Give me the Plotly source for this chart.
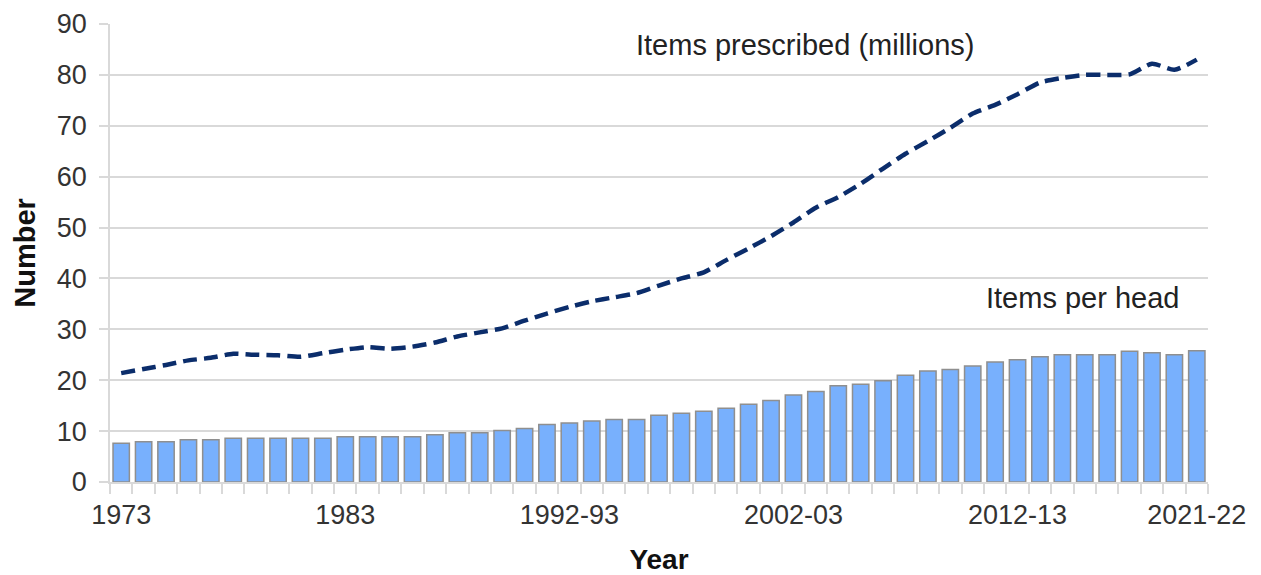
import plotly.graph_objects as go

# Period index along the x axis (one entry per year, 1973 to 2021-22)
period_index = list(range(49))

# Items per head (bars)
items_per_head = [
    7.6, 7.9, 7.9, 8.3, 8.3, 8.6, 8.6, 8.6, 8.6, 8.6,
    8.9, 8.9, 8.9, 8.9, 9.3, 9.7, 9.7, 10.1, 10.5, 11.3,
    11.6, 12.0, 12.3, 12.3, 13.1, 13.5, 13.9, 14.5, 15.3, 16.0,
    17.1, 17.8, 18.9, 19.2, 19.9, 21.0, 21.8, 22.1, 22.8, 23.6,
    24.0, 24.6, 25.0, 25.0, 25.0, 25.7, 25.4, 25.0, 25.8,
]

# Items prescribed, millions (dashed line)
items_prescribed = [
    21.4, 22.2, 23.0, 23.9, 24.4, 25.2, 25.0, 24.9, 24.6, 25.3,
    26.0, 26.5, 26.2, 26.6, 27.4, 28.6, 29.4, 30.2, 31.7, 33.1,
    34.4, 35.5, 36.3, 37.1, 38.6, 40.0, 41.2, 43.6, 45.9, 48.3,
    51.0, 53.9, 56.0, 58.6, 61.6, 64.5, 67.0, 69.6, 72.4, 74.1,
    76.2, 78.5, 79.4, 80.0, 80.0, 80.1, 82.2, 81.0, 83.0,
]

# Labelled periods on the x axis
tick_positions = [0, 10, 20, 30, 40, 48]
tick_labels = ["1973", "1983", "1992-93", "2002-03", "2012-13", "2021-22"]

y_ticks = [0, 10, 20, 30, 40, 50, 60, 70, 80, 90]

FONT = "Liberation Sans, Arial, sans-serif"
GRID = "#d9d9d9"

fig = go.Figure()

fig.add_trace(go.Bar(
    x=period_index,
    y=items_per_head,
    marker=dict(color="#78b0fd", line=dict(color="#8f8f8f", width=1.5)),
    name="Items per head",
    showlegend=False,
))

fig.add_trace(go.Scatter(
    x=period_index,
    y=items_prescribed,
    mode="lines",
    line=dict(color="#0b2d6b", width=4.5, dash="14px,7px", shape="spline", smoothing=0.6),
    name="Items prescribed (millions)",
    showlegend=False,
))

fig.add_annotation(
    x=30.5, y=85.9, xref="x", yref="y",
    text="Items prescribed (millions)", showarrow=False,
    font=dict(family=FONT, size=29, color="#222222"),
)
fig.add_annotation(
    x=42.9, y=36.1, xref="x", yref="y",
    text="Items per head", showarrow=False,
    font=dict(family=FONT, size=29, color="#222222"),
)

fig.update_layout(
    width=1261,
    height=575,
    margin=dict(l=110, r=53, t=24, b=93),
    paper_bgcolor="white",
    plot_bgcolor="white",
    bargap=0.27,
    font=dict(family=FONT, size=27, color="#333333"),
)

fig.update_xaxes(
    range=[-0.5, 48.5],
    automargin=False,
    tickmode="array",
    tickvals=tick_positions,
    ticktext=tick_labels,
    ticks="",
    ticklabelstandoff=8,
    tickfont=dict(family=FONT, size=27, color="#333333"),
    showgrid=False,
    showline=True,
    linecolor=GRID,
    linewidth=1.5,
    zeroline=False,
    minor=dict(ticks="outside", tickmode="linear", tick0=-0.5, dtick=1,
               ticklen=10, tickcolor=GRID, tickwidth=1.5, showgrid=False),
    title=dict(text="<b>Year</b>", font=dict(family=FONT, size=28, color="#111111"), standoff=23),
)

fig.update_yaxes(
    range=[0, 90],
    automargin=False,
    tickmode="array",
    tickvals=y_ticks,
    ticks="outside",
    ticklen=9,
    tickcolor=GRID,
    tickwidth=1.5,
    ticklabelstandoff=7,
    tickfont=dict(family=FONT, size=27, color="#333333"),
    showgrid=True,
    gridcolor=GRID,
    gridwidth=1.5,
    showline=True,
    linecolor=GRID,
    linewidth=1.5,
    zeroline=False,
    title=dict(text="<b>Number</b>", font=dict(family=FONT, size=29, color="#111111"), standoff=13),
)

fig.write_html("out.html")
